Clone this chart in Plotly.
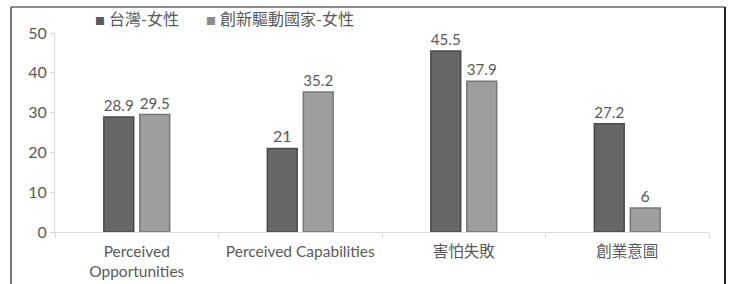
import plotly.graph_objects as go

categories = ["Perceived<br>Opportunities", "Perceived Capabilities", "害怕失敗", "創業意圖"]
series_names = ["台灣-女性", "創新驅動國家-女性"]
taiwan_female = [28.9, 21, 45.5, 27.2]
innovation_female = [29.5, 35.2, 37.9, 6]
y_ticks = [0, 10, 20, 30, 40, 50]

FONT = "Lato, 'Noto Sans CJK TC', sans-serif"
GRAY = "#595959"
DARK = "#676767"
LIGHT = "#9e9e9e"

W, H = 733, 284
L, R, T, B = 55, 24, 33, 52
pw = W - L - R
ph = H - T - B

def px_x(x):
    return (x - L) / pw

def px_y(y):
    return (H - B - y) / ph

fig = go.Figure()
fig.add_trace(go.Bar(
    x=categories, y=taiwan_female, name=series_names[0],
    marker=dict(color=DARK, line=dict(color="#4a4a4a", width=1.5)),
    texttemplate="%{y}", textposition="outside",
    textfont=dict(family=FONT, size=16, color=GRAY),
    cliponaxis=False,
))
fig.add_trace(go.Bar(
    x=categories, y=innovation_female, name=series_names[1],
    marker=dict(color=LIGHT, line=dict(color="#777777", width=1.5)),
    texttemplate="%{y}", textposition="outside",
    textfont=dict(family=FONT, size=16, color=GRAY),
    cliponaxis=False,
))

shapes = [
    dict(type="line", xref="paper", yref="paper", x0=px_x(11), x1=px_x(11), y0=px_y(7), y1=px_y(300),
         line=dict(color="#777777", width=2)),
    dict(type="line", xref="paper", yref="paper", x0=px_x(11), x1=px_x(725), y0=px_y(7), y1=px_y(7),
         line=dict(color="#666666", width=1.5)),
    dict(type="line", xref="paper", yref="paper", x0=px_x(725), x1=px_x(725), y0=px_y(7), y1=px_y(300),
         line=dict(color="#222222", width=2)),
]

legend_x = [93, 204]
annotations = []
for name, col, lx in zip(series_names, ["#5a5a5a", "#8a8a8a"], legend_x):
    annotations.append(dict(
        xref="paper", yref="paper", x=px_x(lx), y=px_y(19), xanchor="left", yanchor="middle",
        showarrow=False,
        text=f"<span style='color:{col};font-size:10px'>■</span> {name}",
        font=dict(family=FONT, size=16, color=GRAY),
    ))

fig.update_layout(
    width=W, height=H,
    margin=dict(l=L, r=R, t=T, b=B, pad=0, autoexpand=False),
    paper_bgcolor="white", plot_bgcolor="white",
    barmode="group", bargap=0.56, bargroupgap=0.17,
    showlegend=False,
    font=dict(family=FONT, color=GRAY),
    shapes=shapes,
    annotations=annotations,
)
fig.update_xaxes(
    showline=True, linecolor="#d9d9d9", linewidth=1,
    ticks="outside", tickson="boundaries", ticklen=5, tickcolor="#d9d9d9",
    tickfont=dict(family=FONT, size=15.5, color=GRAY), ticklabelstandoff=5,
    showgrid=False, fixedrange=True, automargin=False,
)
fig.update_yaxes(
    range=[0, 50], tickvals=y_ticks,
    showline=True, linecolor="#d9d9d9", linewidth=1,
    ticks="outside", ticklen=4, tickcolor="#d9d9d9",
    tickfont=dict(family=FONT, size=16, color=GRAY),
    showgrid=False, zeroline=False, fixedrange=True, automargin=False,
)

fig.write_html("out.html", config={"displayModeBar": False, "staticPlot": True},
               post_script="document.body.style.margin='0';document.body.style.overflow='hidden';")
